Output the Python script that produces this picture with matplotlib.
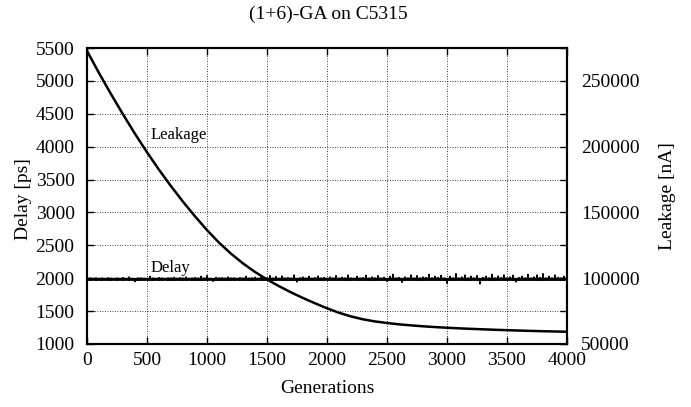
import numpy as np
from matplotlib import pyplot as plt
from matplotlib.ticker import MultipleLocator

# Datos
gen_leak = list(range(0, 4001, 100))
leakage = [272700, 255900, 239900, 224500, 209700, 195700, 182400, 169900,
           158100, 147000, 136500, 127000, 118600, 111200, 104700, 99000,
           93900, 89200, 84900, 80900, 77100, 73700, 70900, 68700, 67100,
           65900, 64900, 64100, 63400, 62800, 62300, 61850, 61450, 61100,
           60750, 60450, 60150, 59900, 59650, 59450, 59250]

delay_base = 1982
# picos del retardo, uno cada 25 generaciones
gen_spike = list(range(0, 4001, 25))
delay_spike = [1985, 1990, 1982, 2000, 1985, 1995, 1983, 2005, 1988, 1984,
               1995, 1985, 2010, 1983, 2020, 1985, 1945, 1990, 2000, 1986,
               1984, 2030, 1990, 1985, 2010, 1995, 1984, 2000, 1990, 2015,
               1986, 2005, 1990, 2020, 1985, 1995, 2010, 1988, 2030, 1990,
               2040, 1985, 1950, 2015, 1990, 2005, 1987, 2020, 1990, 2000,
               1985, 2010, 1990, 2030, 1988, 2000, 2015, 1986, 2020, 1990,
               2000, 2040, 1990, 2025, 1985, 2035, 1995, 2010, 1988, 2050,
               1940, 2000, 2020, 1990, 2030, 1987, 2010, 2035, 1990, 2010,
               1985, 2020, 1995, 2040, 1988, 2015, 1990, 2050, 2000, 1986,
               2030, 1990, 2010, 2045, 1988, 2020, 2000, 2040, 1990, 2015,
               1950, 2030, 2060, 1990, 2010, 1935, 2020, 2000, 2050, 1990,
               2040, 1995, 2020, 2010, 2060, 1990, 2030, 2010, 2045, 1995,
               1920, 2030, 2000, 2070, 1995, 2020, 2050, 2000, 2030, 1990,
               2040, 1910, 2010, 2030, 2000, 2060, 1995, 2035, 2010, 2050,
               1990, 2020, 2045, 1940, 2010, 2030, 2000, 2060, 1995, 2020,
               2050, 2010, 2070, 1995, 2030, 2000, 2050, 2015, 1990, 2030,
               1985]

titulo = '(1+6)-GA on C5315'

# serie fina: linea base con los picos
gen_delay = np.arange(0, 4001, 5)
delay = np.full(gen_delay.shape, float(delay_base))
delay[np.searchsorted(gen_delay, gen_spike)] = delay_spike

plt.rcParams['font.family'] = ['Liberation Serif', 'DejaVu Serif']
fs = 14

fig = plt.figure(figsize=(6.91, 4.07), dpi=100)
ax = fig.add_axes([0.126, 0.155, 0.6945, 0.727])
ax2 = ax.twinx()

ax.plot(gen_delay, delay, color='k', lw=0.9)
ax.plot(gen_delay, np.clip(delay, delay_base - 8, delay_base + 8), color='k', lw=2.2)
ax2.plot(gen_leak, leakage, color='k', lw=1.8)

ax.set_xlim(0, 4000)
ax.set_ylim(1000, 5500)
ax2.set_ylim(50000, 275000)
ax.xaxis.set_major_locator(MultipleLocator(500))
ax.yaxis.set_major_locator(MultipleLocator(500))
ax2.yaxis.set_major_locator(MultipleLocator(50000))
ax2.yaxis.set_minor_locator(MultipleLocator(25000))

ax.grid(True, color='k', lw=0.6, linestyle=(0, (1, 2)))
ax.tick_params(direction='in', length=5, width=1, labelsize=fs, top=True, right=False)
ax.tick_params(axis='y', pad=9)
ax.tick_params(axis='x', pad=6)
ax2.tick_params(which='both', direction='in', length=5, width=1, labelsize=fs, pad=10)
for a in (ax, ax2):
    for s in a.spines.values():
        s.set_linewidth(1.5)

ax.text(525, 4170, 'Leakage', fontsize=12, va='center')
ax.text(525, 2150, 'Delay', fontsize=12, va='center')

ax.set_xlabel('Generations', fontsize=fs)
ax.xaxis.set_label_coords(0.5, -0.122)
ax.set_ylabel('Delay [ps]', fontsize=fs)
ax.yaxis.set_label_coords(-0.115, 0.49)
ax2.set_ylabel('Leakage [nA]', fontsize=fs)
ax2.yaxis.set_label_coords(1.192, 0.5)
fig.text(0.475, 1 - 14 / 407, titulo, fontsize=fs, ha='center', va='center')

fig.savefig('out.png', dpi=100)
